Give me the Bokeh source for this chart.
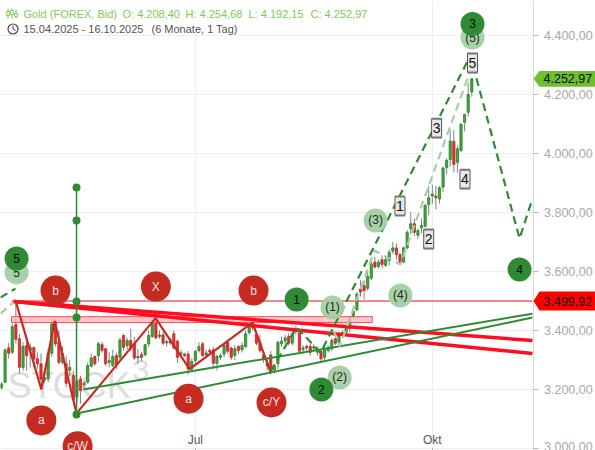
from bokeh.embed import file_html
from bokeh.resources import INLINE
from bokeh.plotting import figure
from bokeh.models import FixedTicker
from bokeh.core.properties import value

FONT = "Liberation Sans"
opens = [3206,3225,3341,3326,3420,3372,3275,3349,3332,3342,3304,3287,3232,3236,3323,3433,3362,3292,3287,3265,3247,3174,3236,3216,3225,3279,3312,3315,3352,3338,
         3292,3281,3315,3309,3383,3349,3366,3355,3307,3318,3318,3355,3380,3445,3380,3385,3358,3365,3389,3364,3320,3320,3320,3270,3298,3332,3355,3317,3332,3335,
         3289,3309,3320,3359,3341,3315,3346,3335,3346,3393,3431,3386,3360,3317,3280,3317,3266,3287,3355,3365,3380,3357,3396,3394,3336,3346,3346,3340,3326,3329,
         3309,3332,3338,3372,3360,3389,3394,3406,3445,3470,3541,3552,3543,3577,3632,3617,3640,3621,3637,3669,3680,3657,3632,3680,3745,3762,3723,3748,3753,3827,
         3856,3856,3846,3886,3953,3980,4041,3970,4010,4106,4140,4208.40]
highs = [3226,3340,3357,3423,3491,3389,3360,3370,3356,3346,3326,3322,3255,3340,3433,3440,3400,3345,3315,3300,3264,3232,3247,3228,3292,3322,3315,3362,3362,3340,
         3326,3335,3325,3375,3389,3375,3406,3378,3338,3328,3355,3400,3435,3452,3400,3395,3370,3375,3400,3368,3335,3325,3330,3305,3335,3360,3362,3335,3340,3345,
         3318,3322,3358,3370,3345,3350,3350,3360,3400,3425,3435,3395,3385,3325,3305,3330,3285,3365,3380,3385,3390,3400,3415,3400,3350,3352,3355,3355,3345,3338,
         3345,3350,3375,3380,3395,3400,3420,3450,3485,3530,3570,3570,3600,3635,3650,3640,3655,3650,3675,3700,3695,3665,3685,3740,3800,3780,3745,3780,3830,3890,
         3895,3890,3890,3955,3985,4080,4080,4025,4100,4135,4240,4254.68]
lows = [3200,3222,3305,3320,3356,3255,3264,3264,3275,3275,3270,3220,3220,3225,3310,3345,3285,3285,3208,3245,3162,3155,3152,3205,3220,3275,3280,3295,3325,3280,
        3275,3275,3270,3295,3332,3335,3330,3300,3287,3295,3312,3345,3375,3370,3372,3350,3345,3350,3335,3290,3310,3310,3250,3260,3285,3325,3310,3310,3320,3270,
        3265,3300,3310,3322,3300,3300,3320,3325,3340,3385,3400,3350,3325,3290,3265,3250,3255,3270,3345,3355,3350,3350,3385,3325,3320,3332,3315,3330,3315,3295,
        3300,3325,3330,3350,3345,3380,3385,3395,3440,3465,3515,3505,3535,3570,3610,3610,3610,3615,3620,3660,3640,3625,3628,3675,3725,3720,3710,3730,3750,3790,
        3830,3810,3830,3870,3930,3955,3935,3935,4005,4075,4125,4192.15]
closes = [3219,3334,3323,3413,3370,3275,3346,3315,3343,3303,3287,3235,3240,3324,3422,3355,3292,3322,3221,3275,3165,3230,3196,3221,3281,3307,3287,3355,3332,3287,
          3298,3312,3285,3368,3343,3366,3338,3307,3312,3309,3352,3383,3428,3375,3385,3357,3362,3358,3341,3309,3324,3315,3270,3295,3329,3346,3315,3324,3327,3289,
          3312,3315,3351,3330,3309,3338,3332,3349,3389,3413,3409,3357,3332,3302,3290,3259,3281,3360,3364,3375,3357,3389,3404,3330,3341,3341,3326,3345,3335,3304,
          3335,3343,3366,3357,3383,3394,3411,3445,3465,3524,3530,3535,3583,3626,3615,3632,3624,3640,3665,3680,3657,3632,3680,3733,3762,3733,3739,3756,3824,3850,
          3863,3850,3884,3951,3976,4042,3963,4016,4100,4132,4200,4252.97]

y_ticks = [3000, 3200, 3400, 3600, 3800, 4000, 4200, 4400]
y_labels = ["3.000,00", "3.200,00", "3.400,00", "3.600,00", "3.800,00", "4.000,00", "4.200,00", "4.400,00"]
x_ticks = [54, 120]
x_labels = ["Jul", "Okt"]

last_price = 4252.97
resistance = 3499.92
zone_left, zone_right, zone_low, zone_high = 2.8, 103.3, 3427, 3447

red_trend_a_x, red_trend_a_y = [3.4, 147.9], [3498, 3366]
red_trend_b_x, red_trend_b_y = [3.4, 147.9], [3498, 3322]
green_trend_a_x, green_trend_a_y = [20.9, 147.9], [3119, 3444]
green_trend_b_x, green_trend_b_y = [22.8, 147.9], [3200, 3457]
zigzag_x = [4.0, 11.1, 14.8, 20.9, 42.9, 52.4, 69.9, 74.9]
zigzag_y = [3498, 3200, 3432, 3119, 3442, 3269, 3427, 3261]
wave_x = [74.9, 82.2, 88.9, 130.6, 144.3, 147.9]
wave_y = [3261, 3410, 3325, 4332, 3712, 3847]
wave_in_x, wave_in_y = [-0.3, 3.9], [3512, 3542]
alt_x = [92.5, 94.2, 103.9, 111.1, 130.6]
alt_y = [3400, 3346, 3671, 3624, 4281]
alt_in_x, alt_in_y = [-0.3, 3.3], [3457, 3495]
fib_x = 20.9
fib_y = [3885, 3773, 3498, 3444, 3115]

red_x = [15.04, 43, 70.2, 11.1, 52.1, 75.2, 21.2]
red_y = [3535.5, 3549, 3535.5, 3095, 3169, 3156, 3008]
red_t = ["b", "X", "b", "a", "a", "c/Y", "c/W"]
dark_x = [4.2, 82.2, 89.1, 131.2, 144.3]
dark_y = [3644, 3505, 3200, 4439, 3607]
dark_t = ["5", "1", "2", "3", "4"]
light_x = [4.2, 92.2, 94.2, 104.2, 111.1, 131.2]
light_y = [3597, 3478, 3241, 3773, 3519, 4393]
light_t = ["5", "(1)", "(2)", "(3)", "(4)", "(5)"]
box_x = [111, 119, 121.2, 129.1, 131.2]
box_y = [3822, 3710, 4086, 3913, 4307]
box_t = ["1", "2", "3", "4", "5"]

idx = list(range(len(closes)))
up = [c >= o for o, c in zip(opens, closes)]

GREEN = "#2e8b34"
LIGHT = "#a3cfa3"
RED = "#c62b21"
BRIGHT_RED = "#ff0d1f"


def x_at(px):
    return (px - 1) / 3.59


def y_at(py):
    return 4400 + (35 - py) * 3.3898


p = figure(frame_width=595, frame_height=450, output_backend="svg", toolbar_location=None,
           x_range=(x_at(0), x_at(595)), y_range=(y_at(450), y_at(0)),
           y_axis_location="right", min_border=0, outline_line_color=None)
p.background_fill_color = "white"

ya = p.yaxis[0]
ya.fixed_location = x_at(532.5)
ya.ticker = FixedTicker(ticks=y_ticks)
ya.major_label_overrides = dict(zip(y_ticks, y_labels))
ya.major_label_text_font = FONT
ya.major_label_text_font_size = "12.5px"
ya.major_label_text_color = "#a8a8a8"
ya.major_label_standoff = 6
ya.axis_line_color = "#d8d8d8"
ya.major_tick_line_color = "#b8b8b8"
ya.major_tick_in = 0
ya.major_tick_out = 5
ya.minor_tick_line_color = None

xa = p.xaxis[0]
xa.fixed_location = y_at(448)
xa.ticker = FixedTicker(ticks=x_ticks)
xa.major_label_overrides = dict(zip(x_ticks, x_labels))
xa.major_label_text_font = FONT
xa.major_label_text_font_size = "12px"
xa.major_label_text_color = "#555555"
xa.major_label_standoff = -18
xa.axis_line_color = None
xa.major_tick_line_color = "#999999"
xa.major_tick_in = 0
xa.major_tick_out = 2
xa.minor_tick_line_color = None

p.grid.grid_line_color = "#eeeeee"
p.xgrid.ticker = FixedTicker(ticks=x_ticks)
p.ygrid.ticker = FixedTicker(ticks=y_ticks)

# right-hand strip stays free of grid lines
p.quad(left=[x_at(532.5)], right=[x_at(600)], bottom=[y_at(455)], top=[y_at(-5)], color="white", line_color=None)

# watermark
p.text([x_at(7)], [y_at(385)], text=["STOCK"], text_font=value(FONT), text_font_size="36px",
       text_color="#dddddd", text_baseline="middle")
p.text([x_at(132)], [y_at(369)], text=["3"], text_font=value(FONT), text_font_size="30px",
       text_color="#dddddd", text_baseline="middle")

# header mask
p.quad(left=[x_at(0)], right=[x_at(245)], bottom=[y_at(34)], top=[y_at(0)], color="white", line_color=None)

# candles
p.segment(idx, lows, idx, highs, line_color="#808080", line_width=1)
gi = [i for i in idx if up[i]]
ri = [i for i in idx if not up[i]]
p.vbar([i for i in gi], 0.62, [opens[i] for i in gi], [closes[i] for i in gi],
       fill_color="#43a838", line_color="#2b7d2b", line_width=0.8)
p.vbar([i for i in ri], 0.62, [closes[i] for i in ri], [opens[i] for i in ri],
       fill_color="#ee2a2a", line_color="#b83030", line_width=0.8)

# zone and lines
p.quad(left=[zone_left], right=[zone_right], bottom=[zone_low], top=[zone_high],
       fill_color="#ffb6bb", fill_alpha=0.8, line_color="#ff4d5a", line_width=1)
p.line([zone_left, 147.9], [resistance, resistance], line_color="#e8101c", line_width=1)
p.line(red_trend_a_x, red_trend_a_y, line_color=BRIGHT_RED, line_width=3.5)
p.line(red_trend_b_x, red_trend_b_y, line_color=BRIGHT_RED, line_width=3.5)
p.line(zigzag_x, zigzag_y, line_color=RED, line_width=2.2)
p.line(green_trend_a_x, green_trend_a_y, line_color=GREEN, line_width=2)
p.line(green_trend_b_x, green_trend_b_y, line_color=GREEN, line_width=2)
p.line(alt_x, alt_y, line_color=LIGHT, line_width=2.2, line_dash="8 5")
p.line(alt_in_x, alt_in_y, line_color=LIGHT, line_width=2.2, line_dash="8 5")
p.line(wave_x, wave_y, line_color=GREEN, line_width=2.2, line_dash="8 5")
p.line(wave_in_x, wave_in_y, line_color=GREEN, line_width=2.2, line_dash="8 5")
p.line([fib_x, fib_x], [fib_y[-1], fib_y[0]], line_color=GREEN, line_width=1.5)
p.scatter([fib_x] * len(fib_y), fib_y, size=8, fill_color=GREEN, line_color=None)

# circles
p.scatter(light_x, light_y, size=24, fill_color=LIGHT, line_color=None, fill_alpha=0.95)
p.text(light_x, light_y, text=light_t, text_font=value(FONT), text_font_size="12px",
       text_color="#1c2b1c", text_align="center", text_baseline="middle")
p.scatter(dark_x, dark_y, size=24, fill_color=GREEN, line_color=None)
p.text(dark_x, dark_y, text=dark_t, text_font=value(FONT), text_font_size="12px",
       text_color="#0a0a0a", text_align="center", text_baseline="middle")
p.scatter(red_x, red_y, size=30, fill_color=RED, line_color=None)
p.text(red_x, red_y, text=red_t, text_font=value(FONT), text_font_size="12px",
       text_color="#f0e0e0", text_align="center", text_baseline="middle")

# boxes
p.rect(box_x, box_y, width=10, height=19, width_units="screen", height_units="screen",
       fill_color="#e8e8e8", line_color="#555555", line_width=1)
for offset in (32, -32):
    p.rect(box_x, [v + offset for v in box_y], width=10, height=2, width_units="screen", height_units="screen",
           fill_color="#777777", line_color=None)
p.text(box_x, box_y, text=box_t, text_font=value(FONT), text_font_size="14px",
       text_color="#111111", text_align="center", text_baseline="middle")

# header
head = "#7ccb52"
for px_, t in [(23, "Gold (FOREX, Bid)"), (122, "O: 4.208,40"), (185, "H: 4.254,68"),
               (248, "L: 4.192,15"), (310, "C: 4.252,97")]:
    p.text([x_at(px_)], [y_at(13)], text=[t], text_font=value(FONT), text_font_size="11px",
           text_color=head, text_baseline="middle")
for px_, t in [(23, "15.04.2025 - 16.10.2025"), (151, "(6 Monate, 1 Tag)")]:
    p.text([x_at(px_)], [y_at(28.5)], text=[t], text_font=value(FONT), text_font_size="11px",
           text_color="#555555", text_baseline="middle")
for cx, t0, t1, b0, b1 in [(7.5, 8, 18, 11, 15), (11.5, 8, 18, 10, 14), (15.5, 9, 18, 13, 16)]:
    p.segment([x_at(cx)], [y_at(t0)], [x_at(cx)], [y_at(t1)], line_color=head, line_width=1)
    p.quad(left=[x_at(cx - 1.3)], right=[x_at(cx + 1.3)], top=[y_at(b0)], bottom=[y_at(b1)],
           fill_color="white", line_color=head, line_width=1)
p.scatter([x_at(12.5)], [y_at(28.5)], size=10, fill_color=None, line_color="#444444", line_width=1.2)
p.line([x_at(12.5), x_at(12.5), x_at(15)], [y_at(25), y_at(28.5), y_at(30)], line_color="#444444", line_width=1)

# price tags
for price, half, col in [(last_price, 27, "#6fbe2e"), (resistance, 32, "#ff0000")]:
    p.patch([x_at(533), x_at(539), x_at(596), x_at(596), x_at(539)],
            [price, price + half, price + half, price - half, price - half],
            fill_color=col, line_color=None, level="overlay")
    tag = f"{price:,.2f}".replace(",", "X").replace(".", ",").replace("X", ".")
    p.text([x_at(543)], [price], text=[tag], text_font=value(FONT), text_font_size="12.5px",
           text_color="#0a0a0a", text_baseline="middle", level="overlay")

open("out.html", "w").write(file_html(p, INLINE))
